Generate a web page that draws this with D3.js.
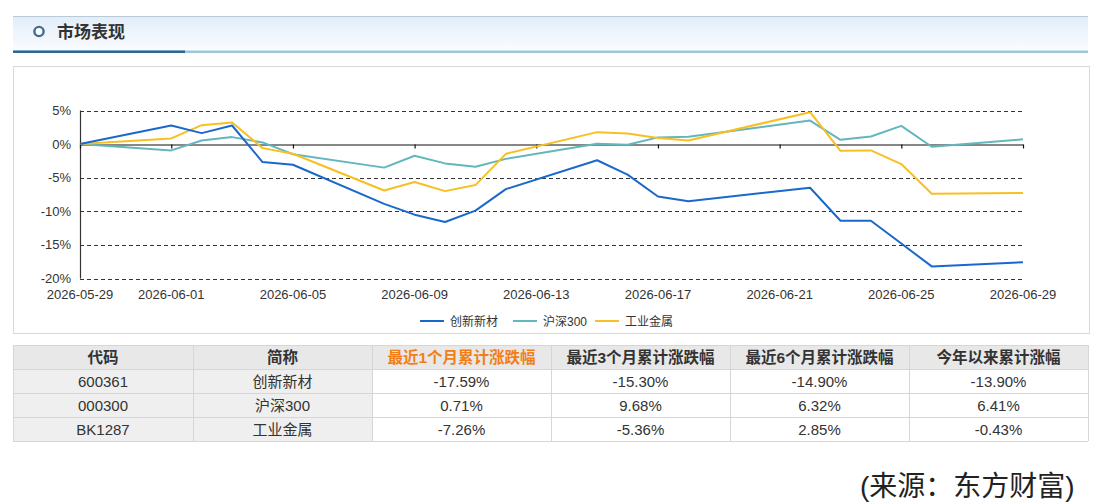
<!DOCTYPE html>
<html>
<head>
<meta charset="utf-8">
<script src="https://cdn.jsdelivr.net/npm/d3@7"></script>
<style>
  html, body { margin: 0; padding: 0; background: #fff; }
  svg { display: block; }
  text { font-family: "Liberation Sans", Arial, "Noto Sans CJK SC", sans-serif; }
  .cjk { font-family: "Liberation Sans", "Noto Sans CJK SC", sans-serif; }
</style>
</head>
<body>
<svg id="c" width="1095" height="504"></svg>
<script>
// ---------- DATA ----------
const dates = ["2026-05-29","2026-06-01","2026-06-02","2026-06-03","2026-06-04","2026-06-05",
  "2026-06-08","2026-06-09","2026-06-10","2026-06-11","2026-06-12",
  "2026-06-15","2026-06-16","2026-06-17","2026-06-18",
  "2026-06-22","2026-06-23","2026-06-24","2026-06-25","2026-06-26","2026-06-29"];
const seriesNames = ["创新新材", "沪深300", "工业金属"];
const cxxc  = [0, 2.77, 1.63, 2.77, -2.67, -3.07, -8.9, -10.5, -11.6, -9.9, -6.7, -2.4, -4.55, -7.8, -8.5, -6.5, -11.4, -11.4, -14.8, -18.2, -17.59];
const hs300 = [0, -0.94, 0.54, 1.04, 0.25, -1.5, -3.5, -1.73, -2.87, -3.37, -2.2, 0.05, -0.1, 1.0, 1.1, 3.5, 0.64, 1.14, 2.72, -0.4, 0.71];
const gyjs  = [0, 0.84, 2.82, 3.2, -0.6, -1.44, -6.9, -5.64, -7.0, -6.1, -1.45, 1.78, 1.58, 0.9, 0.54, 4.75, -1.0, -0.94, -2.97, -7.38, -7.26];
const xTickLabels = ["2026-05-29","2026-06-01","2026-06-05","2026-06-09","2026-06-13","2026-06-17","2026-06-21","2026-06-25","2026-06-29"];
const yTicks = [5, 0, -5, -10, -15, -20];

const tableHeaders = ["代码", "简称", "最近1个月累计涨跌幅", "最近3个月累计涨跌幅", "最近6个月累计涨跌幅", "今年以来累计涨幅"];
const tableCodes = ["600361", "000300", "BK1287"];
const tableNames = ["创新新材", "沪深300", "工业金属"];
const ret1m = ["-17.59%", "0.71%", "-7.26%"];
const ret3m = ["-15.30%", "9.68%", "-5.36%"];
const ret6m = ["-14.90%", "6.32%", "2.85%"];
const retYtd = ["-13.90%", "6.41%", "-0.43%"];

const colors = ["#1b68cc", "#62b7bd", "#f8bf22"];

// ---------- DRAW ----------
const svg = d3.select("#c");
const parse = d3.utcParse("%Y-%m-%d");

// Header bar
const defs = svg.append("defs");
const g1 = defs.append("linearGradient").attr("id","hdr").attr("x1",0).attr("y1",0).attr("x2",0).attr("y2",1);
g1.append("stop").attr("offset","0%").attr("stop-color","#e2edf8");
g1.append("stop").attr("offset","100%").attr("stop-color","#fbfdff");
svg.append("rect").attr("x",13).attr("y",16).attr("width",1075).attr("height",36).attr("fill","url(#hdr)");
svg.append("line").attr("x1",13).attr("x2",1088).attr("y1",16.5).attr("y2",16.5).attr("stroke","#b9c9d8").attr("stroke-width",1);
svg.append("rect").attr("x",13).attr("y",50.5).attr("width",1075).attr("height",2.5).attr("fill","#9ec8da");
svg.append("rect").attr("x",13).attr("y",50.5).attr("width",172).attr("height",2.5).attr("fill","#2d6891");
svg.append("circle").attr("cx",39).attr("cy",31.5).attr("r",4.6).attr("fill","#fff").attr("stroke","#3e6e91").attr("stroke-width",2.4);
svg.append("text").attr("class","cjk").attr("x",57).attr("y",38).attr("font-size",17).attr("font-weight","bold").attr("fill","#333").text("市场表现");

// Chart box
svg.append("rect").attr("x",13.5).attr("y",66.5).attr("width",1076).attr("height",267).attr("fill","#fff").attr("stroke","#d9d9d9");

const x = d3.scaleUtc().domain([parse("2026-05-29"), parse("2026-06-29")]).range([80, 1023]);
const y = d3.scaleLinear().domain([-20, 5]).range([278.5, 110.5]);

// grid lines (dashed)
svg.append("g").selectAll("line").data(yTicks.filter(d => d !== 0)).join("line")
  .attr("x1", 80).attr("x2", 1023)
  .attr("y1", d => Math.round(y(d)) + 0.5).attr("y2", d => Math.round(y(d)) + 0.5)
  .attr("stroke", "#333").attr("stroke-width", 1.2).attr("stroke-dasharray", "4,3");

// y axis line
svg.append("line").attr("x1",80.5).attr("x2",80.5).attr("y1",y(5)).attr("y2",y(-20)).attr("stroke","#333").attr("stroke-width",1.2);

// y labels
svg.append("g").selectAll("text").data(yTicks).join("text")
  .attr("x", 71).attr("y", d => y(d) + 4.5).attr("text-anchor","end")
  .attr("font-size", 13).attr("fill", "#333").text(d => d + "%");

// zero axis with ticks
const xAxis = d3.axisBottom(x)
  .tickValues(xTickLabels.map(parse))
  .tickSize(4).tickSizeOuter(0).tickFormat("");
const xa = svg.append("g").attr("transform", `translate(0,${Math.round(y(0)) + 0.5})`).call(xAxis);
xa.select(".domain").attr("stroke","#111").attr("stroke-width",1.2);
xa.selectAll(".tick line").attr("stroke","#111").attr("stroke-width",1.2);

// x labels at bottom
svg.append("g").selectAll("text").data(xTickLabels).join("text")
  .attr("x", d => x(parse(d))).attr("y", 299).attr("text-anchor","middle")
  .attr("font-size", 13).attr("fill", "#333").text(d => d);

// lines
const allSeries = [cxxc, hs300, gyjs];
const line = d3.line().x((d, i) => x(parse(dates[i]))).y(d => y(d));
[hs300, gyjs, cxxc].forEach(s => {
  const idx = allSeries.indexOf(s);
  svg.append("path").datum(s).attr("d", line).attr("fill","none")
    .attr("stroke", colors[idx]).attr("stroke-width", 2).attr("stroke-linejoin","round");
});

// legend
const legendX = [420, 513, 595];
seriesNames.forEach((n, i) => {
  svg.append("line").attr("x1", legendX[i]).attr("x2", legendX[i] + 24).attr("y1", 321).attr("y2", 321)
    .attr("stroke", colors[i]).attr("stroke-width", 2);
  svg.append("text").attr("class","cjk").attr("x", legendX[i] + 30).attr("y", 325.5)
    .attr("font-size", 12).attr("fill", "#333").text(n);
});

// table
const colX = [13, 193, 372, 551, 730, 909, 1088];
const rowY = [345, 369, 393, 417, 441];
const rows = tableCodes.map((c, i) => [c, tableNames[i], ret1m[i], ret3m[i], ret6m[i], retYtd[i]]);
const tg = svg.append("g");
for (let c = 0; c < 6; c++) {
  tg.append("rect").attr("x", colX[c]).attr("y", rowY[0]).attr("width", colX[c+1]-colX[c]).attr("height", rowY[1]-rowY[0]).attr("fill", "#e8e8e8");
  for (let r = 0; r < 3; r++) {
    tg.append("rect").attr("x", colX[c]).attr("y", rowY[r+1]).attr("width", colX[c+1]-colX[c]).attr("height", rowY[r+2]-rowY[r+1])
      .attr("fill", c < 2 ? "#efefef" : "#fff");
  }
}
rowY.forEach(yy => tg.append("line").attr("x1", colX[0]).attr("x2", colX[6]).attr("y1", yy + 0.5).attr("y2", yy + 0.5).attr("stroke", "#d6d6d6"));
colX.forEach(xx => tg.append("line").attr("x1", xx + 0.5).attr("x2", xx + 0.5).attr("y1", rowY[0]).attr("y2", rowY[4]).attr("stroke", "#d6d6d6"));
tableHeaders.forEach((h, c) => {
  tg.append("text").attr("class","cjk").attr("x", (colX[c] + colX[c+1]) / 2).attr("y", 362.5).attr("text-anchor","middle")
    .attr("font-size", 15.5).attr("font-weight","bold").attr("fill", c === 2 ? "#f27f16" : "#333").text(h);
});
rows.forEach((row, r) => {
  row.forEach((v, c) => {
    tg.append("text").attr("class","cjk").attr("x", (colX[c] + colX[c+1]) / 2).attr("y", rowY[r+1] + 17.5).attr("text-anchor","middle")
      .attr("font-size", 15).attr("fill", "#333").text(v);
  });
});

// source
svg.append("text").attr("class","cjk").attr("x", 860).attr("y", 496)
  .attr("font-size", 28).attr("fill", "#222").text("(来源：东方财富)");
</script>
</body>
</html>
